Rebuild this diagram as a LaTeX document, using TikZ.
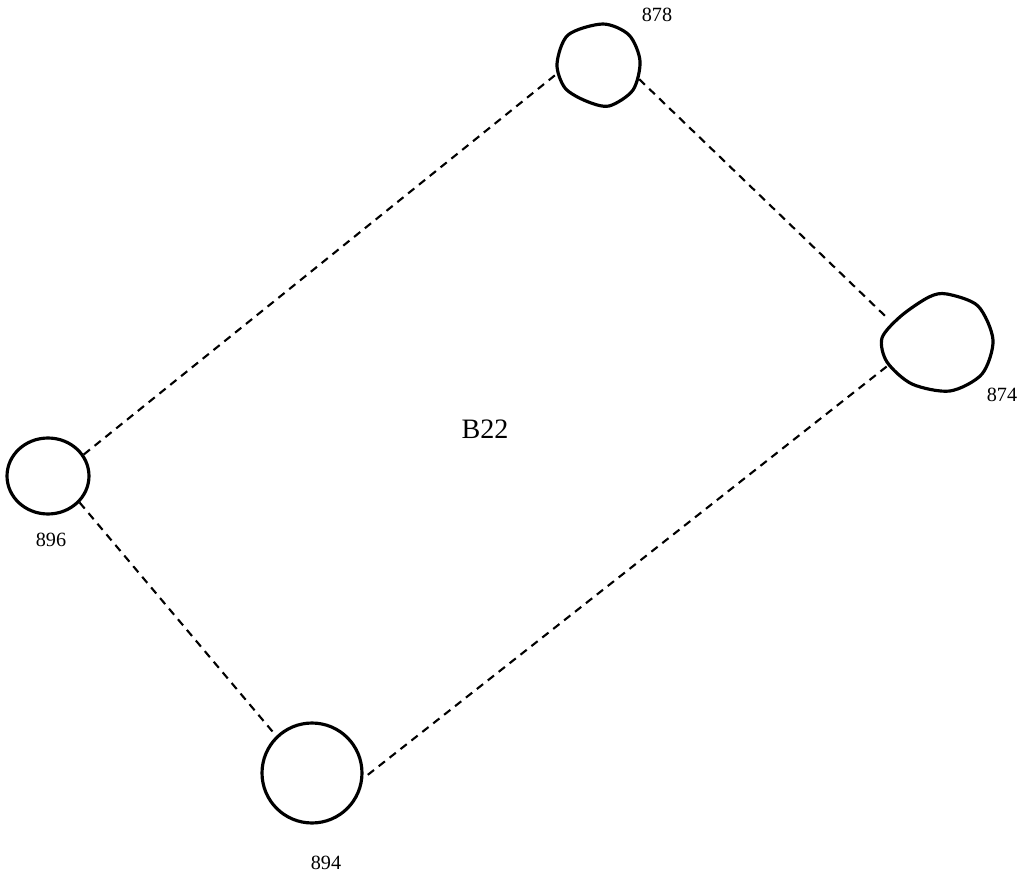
\documentclass[tikz,border=0pt]{standalone}
\usepackage{fontspec}
\setmainfont{Liberation Serif}
\usetikzlibrary{shapes.geometric}
\begin{document}
\begin{tikzpicture}[x=0.02cm,y=-0.02cm,
  spot/.style={ellipse,inner sep=0pt,line width=1.8pt},
  outline/.style={line width=1.8pt,line join=round},
  link/.style={line width=1.2pt,dash pattern=on 4.5pt off 3.4pt},
  tag/.style={font=\fontsize{11.5}{14}\selectfont,inner sep=0pt}]
\useasboundingbox (0,0) rectangle (1022,875);
\node[spot] (n878) at (598,65) [minimum width=1.68cm,minimum height=1.68cm] {};
\node[spot] (n874) at (937,342) [minimum width=2.24cm,minimum height=1.96cm] {};
\node[spot,draw] (n896) at (48,476) [minimum width=1.64cm,minimum height=1.52cm] {};
\node[spot,draw] (n894) at (312,773) [minimum width=2cm,minimum height=2cm] {};
\draw[outline,shift={(n878.center)}] plot[smooth cycle] coordinates {(5,-41) (31,-30) (42,-4) (35,25) (11,41) (-12,36) (-33,23) (-41,-1) (-30,-30)};
\draw[outline,shift={(n874.center)}] plot[smooth cycle] coordinates {(10,-48) (41,-36) (56,-2) (45,32) (13,49) (-25,42) (-50,20) (-55,-4) (-36,-26) (-8,-45)};
\node[tag] (t878) at (657,15) {878};
\node[tag] (t874) at (1002,395) {874};
\node[tag] (t896) at (51,540) {896};
\node[tag] (t894) at (326,863) {894};
\node[font=\fontsize{16}{19}\selectfont,inner sep=0pt] (b22) at (485,429) {B22};
\draw[link] (n896.31) -- (n878.193);
\draw[link] (n878.-19) -- (n874.154);
\draw[link] (n874.206) -- (n894.-6);
\draw[link] (n896.-40) -- (n894.134);
\end{tikzpicture}
\end{document}
